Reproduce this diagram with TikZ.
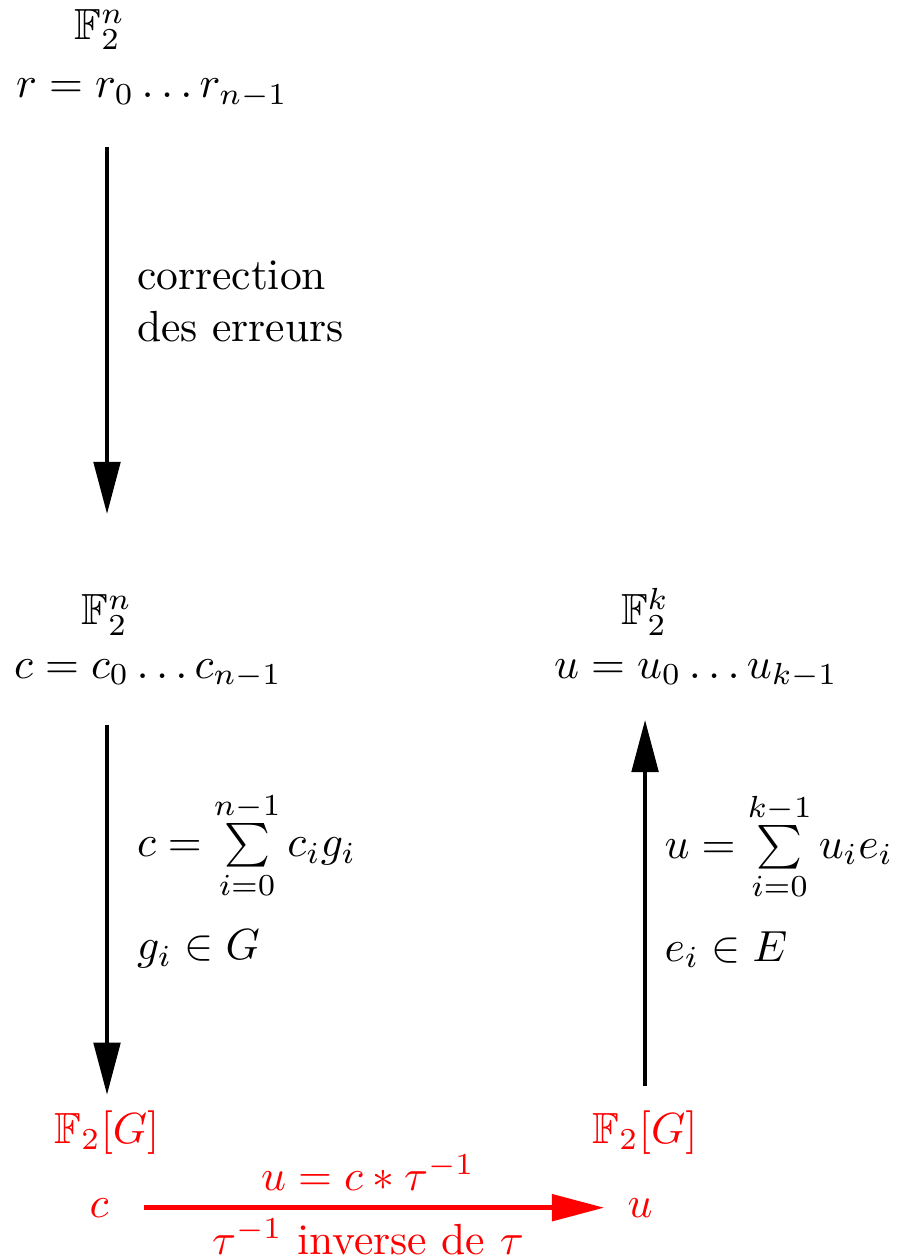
\documentclass[tikz,border=0pt]{standalone}
\usepackage{amsmath}
\usepackage{amssymb}
\usepackage{xcolor}
\usepackage{tikz}
\usetikzlibrary{arrows.meta, positioning, calc}

\begin{document}
\begin{tikzpicture}[
  sp/.style={anchor=base},
  mp/.style={-{Triangle[length=12pt, width=6pt]}, line width=1.1pt},
  lb/.style={right=3pt, align=left},
  grp/.style={anchor=base, red},
]
  \useasboundingbox (0,0) rectangle (7.306,-10.121);

  \node[sp] (fr) at (0.806,-0.315) {$\mathbb{F}_2^n$};
  \node[sp] (rw) at (1.226,-0.790) {$r = r_0\ldots r_{n-1}$};

  \node[sp] (fc) at (0.863,-5.040) {$\mathbb{F}_2^n$};
  \node[sp] (cw) at (1.194,-5.468) {$c = c_0\ldots c_{n-1}$};
  \node[sp] (fk) at (5.202,-5.040) {$\mathbb{F}_2^k$};
  \node[sp] (uw) at (5.613,-5.468) {$u = u_0\ldots u_{k-1}$};

  \node[grp] (gc) at (0.863,-9.218) {$\mathbb{F}_2[G]$};
  \node[grp] (gu) at (5.202,-9.218) {$\mathbb{F}_2[G]$};
  \node[grp] (cc) at (0.798,-9.815) {$c$};
  \node[grp] (uu) at (5.161,-9.815) {$u$};

  \draw[mp, shorten <=5.5pt, shorten >=15pt] (rw.south -| fc) -- node[lb, pos=0.39] {correction\\des erreurs} (fc.north);
  \draw[mp, shorten <=4.8pt] (gc |- cw.south) -- node[lb, pos=0.45] {$c = \sum\limits_{i=0}^{n-1} c_i g_i$\\[6pt]$g_i \in G$} (gc.north);
  \draw[mp, shorten <=2pt, shorten >=3.7pt] (gu.north) -- node[lb, right=0.6pt, pos=0.55] {$u = \sum\limits_{i=0}^{k-1} u_i e_i$\\[6pt]$e_i \in E$} (gu |- uw.south);
  \draw[mp, red, yshift=1pt, shorten <=4.6pt, shorten >=1.8pt] (cc) -- node[above] {$u = c \ast \tau^{-1}$} node[below, inner sep=2pt] {$\tau^{-1}$ inverse de $\tau$} (uu);
\end{tikzpicture}
\end{document}
